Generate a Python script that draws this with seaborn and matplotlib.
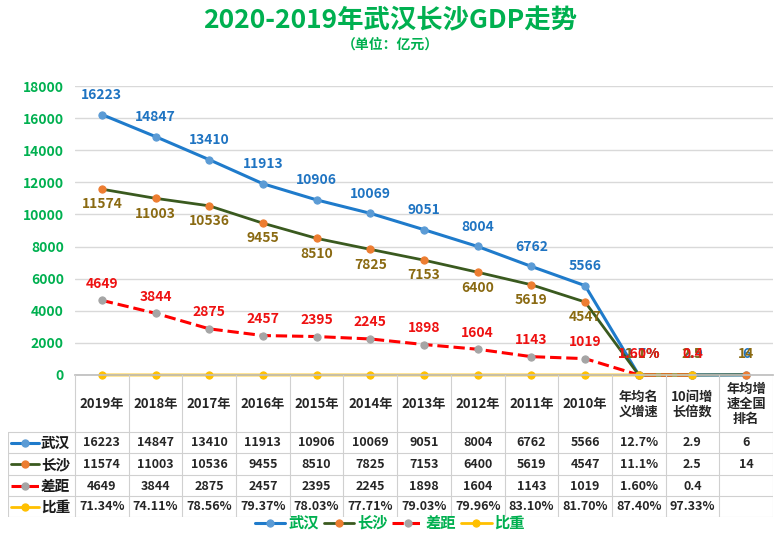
import numpy as np
import pandas as pd
import seaborn as sns
import matplotlib.pyplot as plt

# 数据（单位：亿元）
categories = ['2019年', '2018年', '2017年', '2016年', '2015年', '2014年', '2013年',
              '2012年', '2011年', '2010年', '年均名\n义增速', '10间增\n长倍数', '年均增\n速全国\n排名']
wuhan = [16223, 14847, 13410, 11913, 10906, 10069, 9051, 8004, 6762, 5566, 0.127, 2.9, 6]
changsha = [11574, 11003, 10536, 9455, 8510, 7825, 7153, 6400, 5619, 4547, 0.111, 2.5, 14]
gap = [4649, 3844, 2875, 2457, 2395, 2245, 1898, 1604, 1143, 1019, 0.016, 0.4, np.nan]
share = [0.7134, 0.7411, 0.7856, 0.7937, 0.7803, 0.7771, 0.7903, 0.7996, 0.8310, 0.8170,
         0.8740, 0.9733, np.nan]

# 每列的显示格式
fmt_city = ['{:.0f}'] * 10 + ['{:.1%}', '{:.1f}', '{:.0f}']
fmt_gap = ['{:.0f}'] * 10 + ['{:.2%}', '{:.1f}', '{:.0f}']
fmt_share = ['{:.2%}'] * 13

sns.set_theme(style='white')
plt.rcParams['font.family'] = ['Noto Sans CJK SC', 'DejaVu Sans']
plt.rcParams['axes.unicode_minus'] = False

W, H = 780, 544
fig = plt.figure(figsize=(7.8, 5.44), dpi=100)


def box(l, t, r, b):
    return [l / W, 1 - b / H, (r - l) / W, (b - t) / H]


ax = fig.add_axes(box(75, 86, 773, 375))
x = np.arange(len(categories))

series = [
    # 名称, 数值, 格式, 线色, 点色, 标签色, 线型, 线宽, 标签偏移
    ('武汉', wuhan, fmt_city, '#1f7bcb', '#5b9bd5', '#1f74c2', '-', 2.2, 14),
    ('长沙', changsha, fmt_city, '#3a5a1f', '#ed7d31', '#8a6a12', '-', 2.0, -11),
    ('差距', gap, fmt_gap, '#ff0000', '#a5a5a5', '#ee1111', '--', 2.2, 12),
    ('比重', share, fmt_share, '#ffc000', '#ffc000', None, '-', 2.0, 0),
]

for name, vals, fmts, lc, mc, tc, ls, lw, dy in series:
    df = pd.DataFrame({'x': x, 'y': vals})
    sns.lineplot(data=df, x='x', y='y', ax=ax, color=lc, linewidth=lw, linestyle=ls,
                 marker='o', markersize=5.2, markerfacecolor=mc, markeredgecolor=mc,
                 label=name)
    if tc is None:
        continue
    for i, v in enumerate(vals):
        if np.isnan(v):
            continue
        off = dy if i < 10 else 15
        ax.annotate(fmts[i].format(v), (i, v), xytext=(0, off), textcoords='offset points',
                    ha='center', va='center', color=tc, fontsize=10, fontweight='bold')

for ln in ax.lines:
    ln.set_clip_on(False)

handles, labels = ax.get_legend_handles_labels()
if ax.get_legend() is not None:
    ax.get_legend().remove()

ax.set_xlim(-0.5, 12.5)
ax.set_ylim(0, 18000)
ax.set_yticks(range(0, 18001, 2000))
ax.set_xticks([])
ax.set_xlabel('')
ax.set_ylabel('')
ax.grid(axis='y', color='#d9d9d9', linewidth=1)
ax.set_axisbelow(True)
for s in ['top', 'right', 'left']:
    ax.spines[s].set_visible(False)
ax.spines['bottom'].set_color('#bfbfbf')
ax.tick_params(axis='y', length=0, pad=8, labelsize=10, labelcolor='#00b050')
for t in ax.get_yticklabels():
    t.set_fontweight('bold')

# 数据表
tax = fig.add_axes(box(8, 375, 773, 517))
u = 13 / 698  # 每像素的x单位
x0 = -0.5 - 67 * u
tax.set_xlim(x0, 12.5)
tax.set_ylim(517, 375)
tax.axis('off')

grid_c = '#d0d0d0'
for k in range(14):
    tax.plot([k - 0.5, k - 0.5], [375, 517], color=grid_c, lw=0.8)
tax.plot([x0, x0], [432, 517], color=grid_c, lw=0.8)
for yy in [432, 453, 475, 496, 517]:
    tax.plot([x0, 12.5], [yy, yy], color=grid_c, lw=0.8)

for i, c in enumerate(categories):
    tax.text(i, 404, c, ha='center', va='center', fontsize=9.5, fontweight='bold',
             color='#262626', linespacing=1.05)

row_y = [443, 464, 486, 507]
for (name, vals, fmts, lc, mc, tc, ls, lw, dy), yy in zip(series, row_y):
    tax.plot([x0 + 3 * u, x0 + 31 * u], [yy, yy], color=lc, lw=lw, ls=ls)
    tax.plot([x0 + 17 * u], [yy], marker='o', color=mc, markersize=5)
    tax.text(x0 + 33 * u, yy, name, ha='left', va='center', fontsize=10.5,
             fontweight='bold', color='#1a1a1a')
    for i, v in enumerate(vals):
        if np.isnan(v):
            continue
        tax.text(i, yy, fmts[i].format(v), ha='center', va='center', fontsize=9,
                 fontweight='bold', color='#262626')

fig.legend(handles, labels, loc='center', bbox_to_anchor=(0.5, 1 - 523 / H), ncol=4,
           frameon=False, prop={'weight': 'bold', 'size': 11}, labelcolor='#00b050',
           handlelength=2.0, columnspacing=0.3, handletextpad=0.2)

fig.text(0.5, 1 - 21 / H, '2020-2019年武汉长沙GDP走势', ha='center', va='center',
         fontsize=19, fontweight='bold', color='#00b050')
fig.text(0.5, 1 - 45 / H, '（单位：亿元）', ha='center', va='center',
         fontsize=10, fontweight='bold', color='#00b050')

fig.savefig('out.png', dpi=100)
